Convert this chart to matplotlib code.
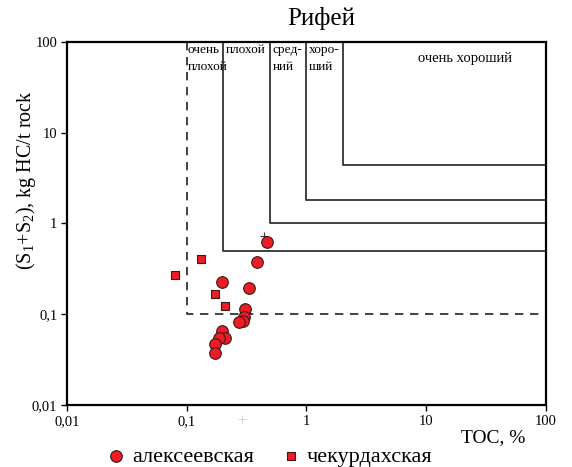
import matplotlib
matplotlib.use("Agg")
import matplotlib.pyplot as plt

plt.rcParams['font.family'] = ['Liberation Serif', 'DejaVu Serif']
plt.rcParams['mathtext.fontset'] = 'custom'
plt.rcParams['mathtext.rm'] = 'Liberation Serif'

# data
alekseev_toc = [0.466, 0.384, 0.198, 0.333, 0.308, 0.301, 0.293, 0.275, 0.198, 0.209, 0.186, 0.172, 0.171]
alekseev_s = [0.625, 0.377, 0.225, 0.196, 0.113, 0.0925, 0.0843, 0.0822, 0.0659, 0.0543, 0.0543, 0.0466, 0.0371]
chekurd_toc = [0.131, 0.0798, 0.171, 0.210]
chekurd_s = [0.406, 0.271, 0.167, 0.123]
cross_toc = [0.442]
cross_s = [0.728]

# classification boundaries (TOC, S1+S2)
dash_toc, dash_s = 0.1, 0.1
class_toc = [0.2, 0.5, 1.0, 2.0]
class_s = [0.5, 1.0, 1.8, 4.4]

ticks = [0.01, 0.1, 1, 10, 100]
tick_labels = ["0,01", "0,1", "1", "10", "100"]

fig = plt.figure(figsize=(5.72, 4.67), dpi=100)
ax = fig.add_axes([0.1171, 0.1328, 0.8374, 0.7773])
ax.set_xscale('log')
ax.set_yscale('log')
ax.set_xlim(0.01, 100)
ax.set_ylim(0.01, 100)

ax.set_xticks(ticks)
ax.set_xticklabels(tick_labels)
ax.set_yticks(ticks)
ax.set_yticklabels(tick_labels)
ax.minorticks_off()
ax.tick_params(axis='both', which='major', labelsize=10.5, length=4, width=1, direction='out', pad=3)
for sp in ax.spines.values():
    sp.set_linewidth(1.6)

# dashed boundary
ax.plot([dash_toc, dash_toc, 100], [100, dash_s, dash_s], color='#222222', lw=1.2,
        ls=(0, (5, 4)), zorder=2)
# solid steps
for t, s in zip(class_toc, class_s):
    ax.plot([t, t, 100], [100, s, s], color='#333333', lw=1.3, zorder=2)

# text labels in boxes
lab_kw = dict(fontsize=9.6, va='top', ha='left', linespacing=1.55)
ax.text(0.1015, 96, "очень\nплохой", **lab_kw)
ax.text(0.211, 96, "плохой", **lab_kw)
ax.text(0.52, 96, "сред-\nний", **lab_kw)
ax.text(1.04, 96, "хоро-\nший", **lab_kw)
ax.text(21, 66, "очень хороший", fontsize=10.5, va='center', ha='center')

# points
ax.scatter(alekseev_toc, alekseev_s, s=70, marker='o', facecolor='#ee1c24',
           edgecolor='#3a1a1a', linewidth=0.8, zorder=4, label='алексеевская')
ax.scatter(chekurd_toc, chekurd_s, s=38, marker='s', facecolor='#ee1c24',
           edgecolor='#3a1a1a', linewidth=0.8, zorder=4, label='чекурдахская')
ax.scatter(cross_toc, cross_s, s=40, marker='+', color='#333333', linewidth=0.8, zorder=3)
ax.scatter([0.287], [0.007], s=40, marker='+', color='#c8d0dc', linewidth=0.6,
           zorder=3, clip_on=False)

ax.set_title("Рифей", fontsize=18, pad=12, x=0.53)
ax.set_ylabel("(S$_1$+S$_2$), kg HC/t rock", fontsize=14.5)
ax.yaxis.set_label_coords(-0.06, 0.62)
fig.text(0.918, 0.063, "TOC, %", fontsize=14, ha='right', va='center')

leg = fig.legend(loc='center', bbox_to_anchor=(0.474, 0.022), ncol=2, frameon=False,
                 fontsize=16, handlelength=0.6, handletextpad=0.4, columnspacing=1.4,
                 markerscale=1.0)

fig.savefig("out.png", dpi=100)
